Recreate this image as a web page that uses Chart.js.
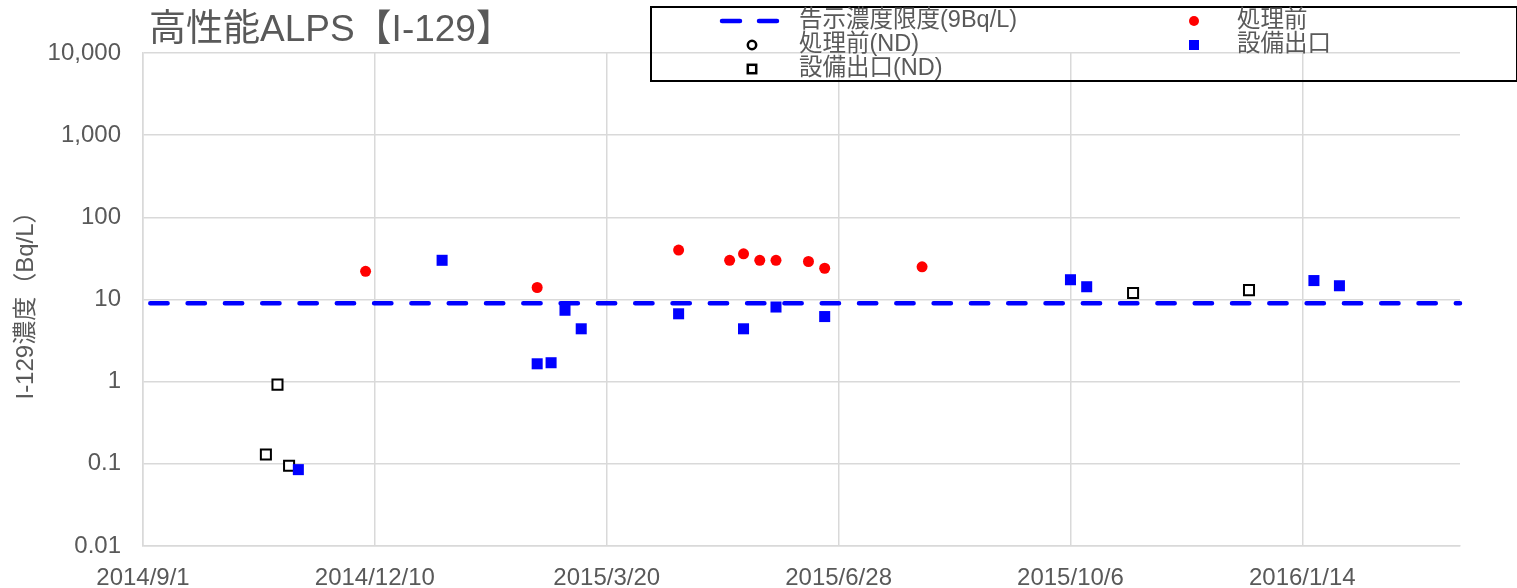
<!DOCTYPE html>
<html>
<head>
<meta charset="utf-8">
<script src="https://cdn.jsdelivr.net/npm/chart.js@4"></script>
<style>
  html, body { margin: 0; padding: 0; background: #fff; }
  #wrap { width: 1517px; height: 588px; }
</style>
</head>
<body>
<div id="wrap"><canvas id="chart" width="1517" height="588"></canvas></div>
<script>
// axis range and ticks
const xStart = '2014/9/1';
const xEnd = '2016/3/22';
const xTickStep = 100; // days
const yTicks = [0.01, 0.1, 1, 10, 100, 1000, 10000];
const yTickLabels = ['0.01', '0.1', '1', '10', '100', '1,000', '10,000'];

// 告示濃度限度
const limitValue = 9;

// 処理前
const beforeDates = ['2014/12/6', '2015/2/18', '2015/4/20', '2015/5/12', '2015/5/18', '2015/5/25', '2015/6/1', '2015/6/15', '2015/6/22', '2015/8/3'];
const beforeValues = [22, 14, 40, 30, 36, 30, 30, 29, 24, 25];

// 処理前(ND) - no points in this period
const beforeNdDates = [];
const beforeNdValues = [];

// 設備出口
const outletDates = ['2014/11/7', '2015/1/8', '2015/2/18', '2015/2/24', '2015/3/2', '2015/3/9', '2015/4/20', '2015/5/18', '2015/6/1', '2015/6/22', '2015/10/6', '2015/10/13', '2016/1/19', '2016/1/30'];
const outletValues = [0.085, 30, 1.65, 1.7, 7.4, 4.4, 6.7, 4.4, 8.1, 6.2, 17.4, 14.3, 17, 14.7];

// 設備出口(ND)
const outletNdDates = ['2014/10/24', '2014/10/29', '2014/11/3', '2015/11/2', '2015/12/22'];
const outletNdValues = [0.13, 0.92, 0.095, 12, 13];

const TEXT = '#595959';
const GRID = '#d9d9d9';
const FONT = "'Liberation Sans', Arial, 'Noto Sans CJK JP', sans-serif";

const DAY = 86400000;
function parseDate(s) {
  const p = s.split('/').map(Number);
  return Date.UTC(p[0], p[1] - 1, p[2]);
}
const t0 = parseDate(xStart);
function dayOf(s) { return Math.round((parseDate(s) - t0) / DAY); }
function fmtDay(d) {
  const dt = new Date(t0 + d * DAY);
  return dt.getUTCFullYear() + '/' + (dt.getUTCMonth() + 1) + '/' + dt.getUTCDate();
}
function pts(dates, vals) {
  return dates.map((d, i) => ({ x: dayOf(d), y: vals[i] }));
}
const xMax = dayOf(xEnd);

// title + boxed legend drawn on the canvas
const decorPlugin = {
  id: 'decor',
  afterDraw(chart) {
    const ctx = chart.ctx;
    ctx.save();
    // title
    ctx.fillStyle = TEXT;
    ctx.font = "37px " + FONT;
    ctx.textBaseline = 'middle';
    ctx.textAlign = 'left';
    ctx.fillText('高性能ALPS【I-129】', 149, 31);

    // legend box
    ctx.strokeStyle = '#000';
    ctx.lineWidth = 2;
    ctx.strokeRect(651, 7, 866, 74);

    const symX = [752, 1194];
    const txtX = [799, 1237];
    const rowY = [21, 45, 69];
    ctx.font = "23.5px " + FONT;
    chart.data.datasets.forEach((ds, i) => {
      const col = i % 2, row = Math.floor(i / 2);
      const x = symX[col], y = rowY[row];
      if (ds.showLine) {
        ctx.strokeStyle = ds.borderColor;
        ctx.lineWidth = ds.borderWidth;
        ctx.lineCap = 'round';
        ctx.beginPath();
        ctx.moveTo(x - 30, y); ctx.lineTo(x - 12, y);
        ctx.moveTo(x + 7, y); ctx.lineTo(x + 25, y);
        ctx.stroke();
      } else if (ds.pointStyle === 'circle') {
        ctx.beginPath();
        ctx.arc(x, y, ds.legendR, 0, Math.PI * 2);
        ctx.fillStyle = ds.pointBackgroundColor;
        ctx.fill();
        if (ds.pointBorderWidth > 0) {
          ctx.strokeStyle = ds.pointBorderColor;
          ctx.lineWidth = 2.5;
          ctx.stroke();
        }
      } else {
        const h = ds.legendR;
        ctx.fillStyle = ds.pointBackgroundColor;
        ctx.fillRect(x - h, y - h, 2 * h, 2 * h);
        if (ds.pointBorderWidth > 0) {
          ctx.strokeStyle = ds.pointBorderColor;
          ctx.lineWidth = 2.5;
          ctx.strokeRect(x - h, y - h, 2 * h, 2 * h);
        }
      }
      ctx.fillStyle = TEXT;
      ctx.textAlign = 'left';
      ctx.fillText(ds.label, txtX[col], y);
    });
    ctx.restore();
  }
};

const ctx = document.getElementById('chart').getContext('2d');
new Chart(ctx, {
  type: 'scatter',
  data: {
    datasets: [
      {
        label: '告示濃度限度(9Bq/L)',
        data: [{ x: 0, y: limitValue }, { x: xMax, y: limitValue }],
        showLine: true,
        borderColor: '#0000ff',
        borderWidth: 4.5,
        borderDash: [17.3, 20],
        borderDashOffset: 30,
        borderCapStyle: 'round',
        pointRadius: 0,
        clip: false,
        order: 5
      },
      {
        label: '処理前',
        data: pts(beforeDates, beforeValues),
        pointStyle: 'circle',
        pointRadius: 5.5,
        pointBackgroundColor: '#ff0000',
        pointBorderColor: '#ff0000',
        pointBorderWidth: 0,
        legendR: 5,
        order: 1
      },
      {
        label: '処理前(ND)',
        data: pts(beforeNdDates, beforeNdValues),
        pointStyle: 'circle',
        pointRadius: 5,
        pointBackgroundColor: '#ffffff',
        pointBorderColor: '#000000',
        pointBorderWidth: 2,
        legendR: 4.2,
        order: 2
      },
      {
        label: '設備出口',
        data: pts(outletDates, outletValues),
        pointStyle: 'rect',
        pointRadius: 7.8,
        pointBackgroundColor: '#0000ff',
        pointBorderColor: '#0000ff',
        pointBorderWidth: 0,
        legendR: 5,
        order: 3
      },
      {
        label: '設備出口(ND)',
        data: pts(outletNdDates, outletNdValues),
        pointStyle: 'rect',
        pointRadius: 7.1,
        pointBackgroundColor: '#ffffff',
        pointBorderColor: '#000000',
        pointBorderWidth: 2,
        legendR: 4.2,
        order: 4
      }
    ]
  },
  options: {
    responsive: false,
    animation: false,
    events: [],
    layout: { padding: { top: 53, right: 57, left: 0, bottom: 0 } },
    plugins: {
      legend: { display: false },
      title: { display: false },
      tooltip: { enabled: false }
    },
    scales: {
      x: {
        type: 'linear',
        min: 0,
        max: xMax,
        afterFit(scale) { scale.height = 42; },
        ticks: {
          stepSize: xTickStep,
          includeBounds: false,
          padding: 18,
          maxRotation: 0,
          color: TEXT,
          font: { family: FONT, size: 24 },
          callback: (v) => fmtDay(v)
        },
        grid: { color: GRID, lineWidth: 1.5, drawTicks: false },
        border: { color: GRID, width: 1.5 }
      },
      y: {
        type: 'logarithmic',
        min: 0.01,
        max: 10000,
        afterFit(scale) { scale.width = 143; },
        afterBuildTicks(scale) { scale.ticks = yTicks.map(v => ({ value: v })); },
        ticks: {
          padding: 22,
          color: TEXT,
          font: { family: FONT, size: 24 },
          callback: (v) => yTickLabels[yTicks.indexOf(v)]
        },
        grid: { color: GRID, lineWidth: 1.5, drawTicks: false },
        border: { color: GRID, width: 1.5 },
        title: {
          display: true,
          text: 'I-129濃度（Bq/L）',
          color: TEXT,
          font: { family: FONT, size: 24 },
          padding: { top: 12, bottom: 0 }
        }
      }
    }
  },
  plugins: [decorPlugin]
});
</script>
</body>
</html>
